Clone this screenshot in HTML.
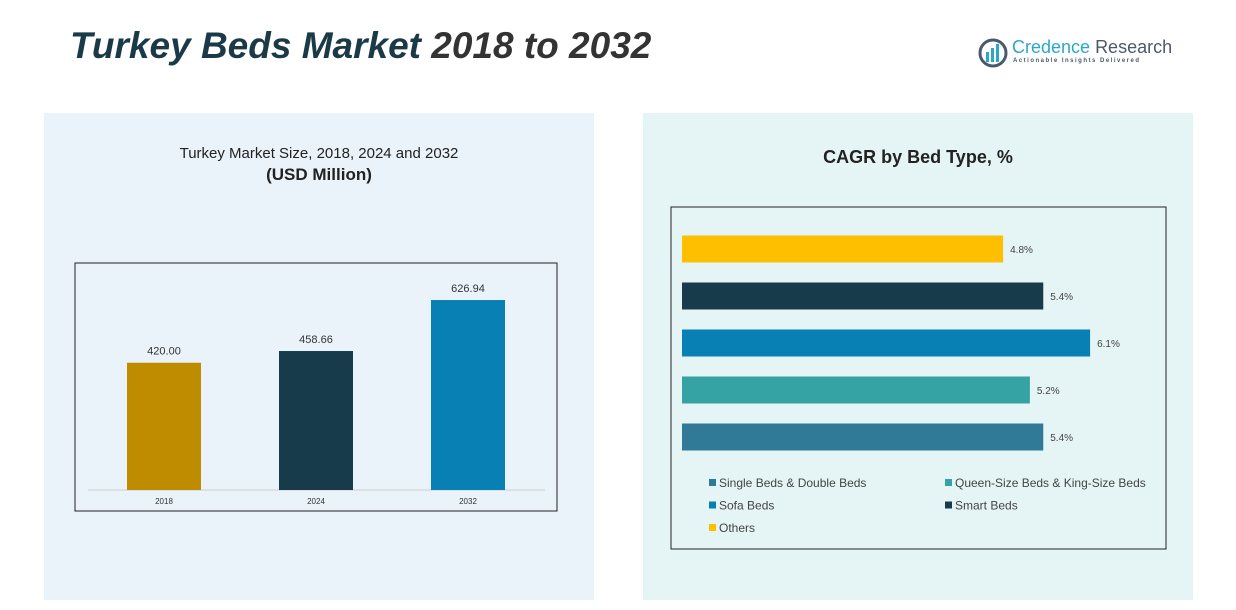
<!DOCTYPE html>
<html><head><meta charset="utf-8"><style>
body{margin:0;width:1236px;height:610px;background:#fff;font-family:"Liberation Sans",sans-serif;position:relative;overflow:hidden}
.abs{position:absolute}
</style></head><body>
<div class="abs" style="left:70px;top:25px;font-size:37px;font-weight:bold;font-style:italic;color:#1b3a48;letter-spacing:0px">Turkey Beds Market <span style="color:#333">2018 to 2032</span></div>
<div class="abs" style="left:978px;top:36px;width:200px;height:34px">
<svg width="30" height="30" style="position:absolute;left:0;top:2px"><circle cx="15" cy="15" r="13" fill="none" stroke="#4a5a6a" stroke-width="3"/><rect x="8" y="14" width="3" height="10" fill="#2aa8c8"/><rect x="13" y="10" width="3" height="14" fill="#2aa8c8"/><rect x="18" y="6" width="3" height="18" fill="#2aa8c8"/></svg>
<div class="abs" style="left:34px;top:1px;font-size:18px;color:#2aa8c8;white-space:nowrap">Credence <span style="color:#4a5a6a">Research</span></div>
<div class="abs" style="left:35px;top:22px;font-size:6px;letter-spacing:1.5px;color:#4a5a6a;white-space:nowrap;font-weight:bold">Actionable Insights Delivered</div>
</div>
<div class="abs" style="left:44px;top:113px;width:550px;height:487px;background:#eaf3fa"></div>
<div class="abs" style="left:643px;top:113px;width:550px;height:487px;background:#e5f4f4"></div>
<div class="abs" style="left:44px;top:145px;width:550px;text-align:center;font-size:15px;color:#222">Turkey Market Size, 2018, 2024 and 2032<br><b style="font-size:17px;line-height:26px">(USD Million)</b></div>
<div class="abs" style="left:643px;top:147px;width:550px;text-align:center;font-size:18px;font-weight:bold;color:#222">CAGR by Bed Type, %</div>
<svg class="abs" style="left:0;top:0" width="1236" height="610" id="svg">
<rect x="75" y="263" width="482" height="248" fill="none" stroke="#222"/>
<line x1="88" y1="490" x2="545" y2="490" stroke="#ccc"/>
<rect x="671" y="207" width="495" height="342" fill="none" stroke="#222"/>
<g id="vbars"></g><g id="hbars"></g><g id="legend"></g>
</svg>
<script>
const years=["2018","2024","2032"];
const sizes=[420.00,458.66,626.94];
const vColors=["#bf8c00","#173b4a","#0880b4"];
const types=["Others","Smart Beds","Sofa Beds","Queen-Size Beds & King-Size Beds","Single Beds & Double Beds"];
const cagr=[4.8,5.4,6.1,5.2,5.4];
const hColors=["#fdbf00","#173b4a","#0880b4","#35a3a3","#307a98"];
const legendOrder=[4,3,2,1,0];
const NS="http://www.w3.org/2000/svg";
function mk(t,a,p){const e=document.createElementNS(NS,t);for(const k in a)e.setAttribute(k,a[k]);p.appendChild(e);return e;}
const yS=v=>490-v*0.303, xC=i=>164+i*152;
const vb=document.getElementById('vbars');
years.forEach((y,i)=>{
 const r=mk('rect',{x:xC(i)-37,y:yS(sizes[i]),width:74,height:490-yS(sizes[i]),fill:vColors[i]},vb);
 
 
 const t=mk('text',{x:xC(i),y:yS(sizes[i])-8,'text-anchor':'middle','font-size':11,fill:'#333'},vb);t.textContent=sizes[i].toFixed(2);
 
 
 const l=mk('text',{x:xC(i),y:504,'text-anchor':'middle','font-size':8,fill:'#333'},vb);l.textContent=y;
 
 
});
const xS=v=>682+v*66.9, yR=i=>249+i*47;
const hb=document.getElementById('hbars');
types.forEach((n,i)=>{
 const r=mk('rect',{x:682,y:yR(i)-13.5,width:xS(cagr[i])-682,height:27,fill:hColors[i]},hb);
 
 
 const t=mk('text',{x:xS(cagr[i])+7,y:yR(i)+4,'font-size':10,fill:'#444'},hb);t.textContent=cagr[i]+'%';
 
 
});
const lg=document.getElementById('legend');
legendOrder.forEach((idx,k)=>{
 const x=709+(k%2)*236, y=484+Math.floor(k/2)*22.5;
 const s=mk('rect',{x:x,y:y-5,width:7,height:7,fill:hColors[idx]},lg);
 
 
 const t=mk('text',{x:x+10,y:y+3,'font-size':12,fill:'#444'},lg);t.textContent=types[idx];
 
 
});
</script>
</body></html>
